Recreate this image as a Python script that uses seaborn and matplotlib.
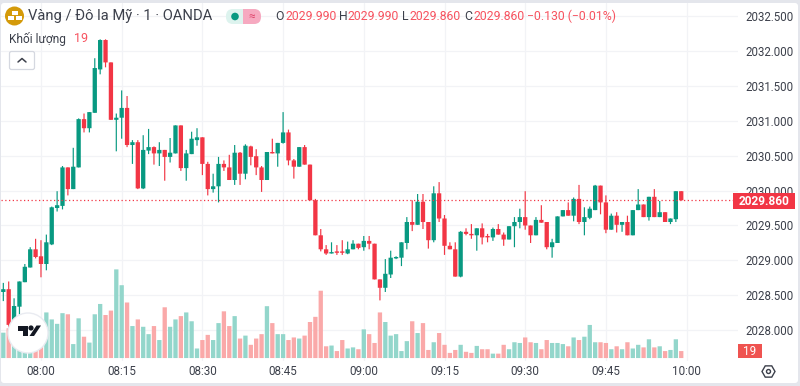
import numpy as np
import pandas as pd
import seaborn as sns
import matplotlib.pyplot as plt
from matplotlib.patches import Circle, FancyBboxPatch, Polygon, Rectangle, RegularPolygon

# Candle values, one per minute
opens = [2028.55,2028.59,2028.08,2028.34,2028.69,2028.90,2029.16,2029.06,2028.95,2029.23,
         2029.75,2029.78,2030.33,2030.02,2030.33,2031.02,2030.89,2031.11,2031.73,2032.15,
         2031.83,2031.01,2031.04,2031.18,2030.65,2030.69,2030.03,2030.57,2030.62,2030.53,
         2030.58,2030.48,2030.53,2030.93,2030.32,2030.52,2030.72,2030.76,2030.38,2030.02,
         2030.06,2030.38,2030.33,2030.15,2030.54,2030.24,2030.63,2030.49,2030.33,2030.15,
         2030.55,2030.53,2030.68,2030.83,2030.43,2030.34,2030.62,2030.37,2029.86,2029.36,
         2029.16,2029.10,2029.12,2029.12,2029.10,2029.16,2029.24,2029.19,2029.28,2029.24,
         2028.73,2028.61,2028.80,2029.03,2029.04,2029.25,2029.55,2029.51,2029.84,2029.55,
         2029.29,2029.96,2029.60,2029.21,2029.16,2028.77,2029.41,2029.38,2029.36,2029.46,
         2029.34,2029.33,2029.45,2029.37,2029.30,2029.49,2029.55,2029.62,2029.50,2029.36,
         2029.58,2029.55,2029.19,2029.25,2029.63,2029.72,2029.64,2029.88,2029.55,2029.61,
         2029.72,2030.07,2029.83,2029.44,2029.64,2029.51,2029.55,2029.36,2029.72,2029.80,
         2029.62,2029.91,2029.62,2029.69,2029.55,2029.59,2029.99]
highs = [2028.68,2028.70,2028.46,2028.70,2028.95,2029.19,2029.31,2029.29,2029.37,2029.77,
         2029.99,2030.35,2030.33,2030.61,2031.03,2031.10,2031.12,2031.89,2032.16,2032.16,
         2031.83,2031.10,2031.43,2031.35,2030.72,2030.72,2030.79,2030.88,2030.63,2030.69,
         2030.58,2030.75,2030.93,2030.93,2030.58,2030.84,2030.89,2030.76,2030.41,2030.24,
         2030.48,2030.43,2030.51,2030.65,2030.55,2030.66,2030.64,2030.59,2030.35,2030.55,
         2030.74,2030.68,2031.12,2030.87,2030.45,2030.62,2030.65,2030.37,2029.88,2029.45,
         2029.22,2029.26,2029.22,2029.29,2029.27,2029.29,2029.24,2029.35,2029.35,2029.24,
         2028.73,2029.02,2029.14,2029.06,2029.26,2029.62,2029.86,2029.95,2029.95,2029.55,
         2030.06,2030.12,2029.65,2029.26,2029.26,2029.42,2029.46,2029.52,2029.46,2029.53,
         2029.38,2029.47,2029.52,2029.40,2029.49,2029.62,2029.74,2029.99,2029.50,2029.62,
         2029.79,2029.55,2029.31,2029.63,2029.72,2029.83,2029.90,2030.08,2029.76,2029.77,
         2030.08,2030.07,2029.93,2029.67,2029.69,2029.55,2029.64,2029.72,2030.02,2029.80,
         2029.91,2030.02,2029.85,2029.69,2029.60,2029.99,2029.99]
lows = [2028.42,2028.02,2028.05,2028.23,2028.69,2028.90,2029.03,2028.76,2028.86,2029.22,
        2029.70,2029.73,2029.93,2030.02,2030.33,2030.83,2030.83,2031.11,2031.66,2031.76,
        2031.01,2030.56,2030.74,2030.62,2030.38,2030.02,2030.02,2030.52,2030.37,2030.35,
        2030.14,2030.40,2030.53,2030.28,2030.14,2030.52,2030.64,2030.22,2029.93,2029.97,
        2029.83,2030.28,2030.15,2030.08,2030.08,2030.16,2030.36,2030.22,2029.98,2030.15,
        2030.53,2030.34,2030.67,2030.36,2030.17,2030.34,2030.37,2029.86,2029.36,2029.13,
        2029.08,2029.10,2029.08,2029.08,2029.09,2029.16,2029.16,2029.14,2029.16,2028.73,
        2028.43,2028.55,2028.75,2029.02,2028.92,2029.16,2029.42,2029.51,2029.45,2029.17,
        2029.26,2029.55,2029.08,2029.16,2028.77,2028.76,2029.36,2029.31,2029.14,2029.23,
        2029.26,2029.28,2029.37,2029.21,2029.30,2029.19,2029.46,2029.44,2029.25,2029.36,
        2029.54,2029.16,2029.04,2029.25,2029.63,2029.64,2029.56,2029.52,2029.36,2029.59,
        2029.72,2029.66,2029.39,2029.44,2029.40,2029.41,2029.36,2029.36,2029.72,2029.62,
        2029.57,2029.62,2029.62,2029.55,2029.52,2029.55,2029.86]
closes = [2028.59,2028.08,2028.35,2028.70,2028.91,2029.16,2029.05,2028.95,2029.26,2029.76,
          2029.79,2030.33,2030.02,2030.34,2031.02,2030.89,2031.12,2031.75,2032.15,2031.83,
          2031.01,2031.04,2031.18,2030.65,2030.69,2030.03,2030.58,2030.62,2030.53,2030.58,
          2030.48,2030.54,2030.93,2030.32,2030.53,2030.74,2030.76,2030.38,2030.02,2030.06,
          2030.38,2030.33,2030.15,2030.54,2030.24,2030.64,2030.48,2030.33,2030.15,2030.55,
          2030.53,2030.68,2030.83,2030.43,2030.34,2030.62,2030.37,2029.86,2029.36,2029.16,
          2029.10,2029.12,2029.11,2029.11,2029.16,2029.24,2029.18,2029.28,2029.24,2028.73,
          2028.61,2028.81,2029.04,2029.04,2029.26,2029.55,2029.51,2029.84,2029.55,2029.29,
          2029.96,2029.60,2029.21,2029.16,2028.77,2029.41,2029.38,2029.36,2029.46,2029.33,
          2029.33,2029.45,2029.37,2029.30,2029.49,2029.55,2029.62,2029.50,2029.36,2029.58,
          2029.54,2029.19,2029.26,2029.63,2029.72,2029.64,2029.88,2029.55,2029.62,2029.74,
          2030.07,2029.83,2029.44,2029.64,2029.51,2029.55,2029.36,2029.72,2029.80,2029.62,
          2029.91,2029.62,2029.69,2029.55,2029.60,2029.99,2029.86]
volumes = [69,81,49,26,26,38,71,98,124,105,93,122,119,38,108,58,42,119,147,117,
           129,241,198,151,87,105,85,65,87,49,138,85,105,114,124,100,26,49,63,49,
           95,127,87,114,53,61,36,53,65,141,95,65,65,49,56,53,61,98,112,183,
           32,34,19,49,26,29,24,78,65,41,124,98,61,65,19,46,100,68,95,22,
           43,68,36,14,22,36,17,14,33,24,24,12,12,36,24,43,41,56,43,41,
           24,49,41,41,38,32,56,49,58,90,43,43,41,24,32,24,43,26,36,29,
           51,29,32,19,22,51,19]

# Minutes counted from 08:00, so the ticks fall on the quarter hours
minutes = list(range(-7, 120))
time_ticks = [0, 15, 30, 45, 60, 75, 90, 105, 120]
time_labels = ['08:00', '08:15', '08:30', '08:45', '09:00', '09:15', '09:30', '09:45', '10:00']
price_ticks = [2028.0, 2028.5, 2029.0, 2029.5, 2030.0, 2030.5, 2031.0, 2031.5, 2032.0, 2032.5]
last_price = 2029.86
last_volume = 19

df = pd.DataFrame({'minute': minutes, 'open': opens, 'high': highs, 'low': lows,
                   'close': closes, 'volume': volumes})
df['up'] = df['close'] >= df['open']

GREEN = '#089981'
RED = '#F23645'
RED_TEXT = '#F7525F'
VOL_GREEN = '#93D6CB'
VOL_RED = '#FAA9A9'
GRID = '#F2F3F6'
TEXT = '#3C404B'

sns.set_theme(style='white')
plt.rcParams['font.family'] = ['Roboto', 'DejaVu Sans']

fig = plt.figure(figsize=(8, 3.86), dpi=100, facecolor='#E4E6EC')

# White card behind the chart, in pixels from the top left
back = fig.add_axes([0, 0, 1, 1], facecolor='none', zorder=-1)
back.set_xlim(0, 800)
back.set_ylim(386, 0)
back.axis('off')
back.add_patch(FancyBboxPatch((1, 3), 797, 380, boxstyle='round,pad=0,rounding_size=3', fc='white', ec='none'))

rect = [1 / 800, 1 - 361 / 386, 737 / 800, 358 / 386]
ax = fig.add_axes(rect, facecolor='none', zorder=1)
ax_vol = fig.add_axes(rect, facecolor='none', sharex=ax, zorder=2)
ax_candle = fig.add_axes(rect, facecolor='none', sharex=ax, sharey=ax, zorder=3)

# Volume bars along the bottom
sns.barplot(data=df, x='minute', y='volume', hue='up', palette={True: VOL_GREEN, False: VOL_RED},
            native_scale=True, dodge=False, width=0.8, saturation=1, linewidth=0, legend=False, ax=ax_vol)
for bar in ax_vol.patches:
    bar.set_snap(False)
ax_vol.set_ylim(-8, 965)
ax_vol.axis('off')

# Candles
colors = df['up'].map({True: GREEN, False: RED})
wicks = ax_candle.vlines(df['minute'], df['low'], df['high'], colors=colors, linewidth=0.85)
wicks.set_snap(False)
body_low = df[['open', 'close']].min(axis=1)
body_size = (df['close'] - df['open']).abs().clip(lower=0.02)
bodies = ax_candle.bar(df['minute'], body_size, bottom=body_low, width=0.8, color=colors, linewidth=0)
for body in bodies:
    body.set_snap(False)
ax_candle.axhline(last_price, color=RED, linewidth=0.9, linestyle=(0, (1, 2)))
ax_candle.axis('off')

ax.set_xlim(-7.43, 129.55)
ax.set_ylim(2027.564, 2032.679)
ax.yaxis.tick_right()
ax.set_xticks(time_ticks)
ax.set_xticklabels(time_labels)
ax.set_yticks(price_ticks)
ax.set_yticklabels(['%.3f' % p for p in price_ticks])
ax.tick_params(axis='x', length=0, pad=3, labelsize=8.4, labelcolor=TEXT)
ax.tick_params(axis='y', length=0, pad=5.5, labelsize=8.3, labelcolor=TEXT)
ax.grid(True, color=GRID, linewidth=0.9)
sns.despine(ax=ax, left=True, bottom=True, top=True, right=True)

# Everything drawn over the chart, in pixels from the top left
over = fig.add_axes([0, 0, 1, 1], facecolor='none', zorder=5)
over.set_xlim(0, 800)
over.set_ylim(386, 0)
over.axis('off')

# Price and volume labels on the right
over.add_patch(Rectangle((733, 193), 62, 16, fc=RED, ec='none'))
over.text(764, 201.5, '%.3f' % last_price, color='white', fontsize=8.6, fontweight='bold', ha='center', va='center')
over.add_patch(Rectangle((738, 344), 24, 14, fc='#EF5350', ec='none'))
over.text(750, 351.5, str(last_volume), color='white', fontsize=8.4, ha='center', va='center')

# Title row
over.add_patch(Circle((14.5, 16), 9.5, fc='#D49A0A', ec='none'))
over.add_patch(Rectangle((11.5, 11), 6, 3.5, fc='white', ec='none'))
over.add_patch(Rectangle((7.5, 16), 6, 3.5, fc='white', ec='none'))
over.add_patch(Rectangle((15.5, 16), 6, 3.5, fc='white', ec='none'))
over.add_patch(FancyBboxPatch((226, 9), 34, 15, boxstyle='round,pad=0,rounding_size=7', fc='#DDF3EE', ec='none'))
over.add_patch(FancyBboxPatch((243, 9), 18, 15, boxstyle='round,pad=0,rounding_size=7', fc='#F6A9C0', ec='none'))
over.add_patch(Rectangle((243, 9), 8, 15, fc='#F6A9C0', ec='none'))
over.add_patch(Circle((235, 16.5), 3.8, fc=GREEN, ec='none'))
over.text(252, 16.5, '≈', color='#E0486E', fontsize=8.5, ha='center', va='center')

over.text(28.5, 16, 'Vàng / Đô la Mỹ · 1 · OANDA', color=TEXT, fontsize=10.6, va='center')
for x, s, c in [(275, 'O', TEXT), (285, '2029.990', RED_TEXT), (339, 'H', TEXT), (348, '2029.990', RED_TEXT),
                (402, 'L', TEXT), (410, '2029.860', RED_TEXT), (464, 'C', TEXT), (473, '2029.860', RED_TEXT),
                (527, '−0.130 (−0.01%)', RED_TEXT)]:
    over.text(x, 16.5, s, color=c, fontsize=8.8, va='center')

over.text(9, 38.5, 'Khối lượng', color=TEXT, fontsize=8.6, va='center')
over.text(74, 38.5, str(last_volume), color=RED_TEXT, fontsize=9, va='center')

# Collapse button
over.add_patch(FancyBboxPatch((9.5, 51.5), 25, 18, boxstyle='round,pad=0,rounding_size=2', fc='white',
                              ec='#D5D8E0', linewidth=0.9))
over.plot([18, 22, 26], [62, 58.5, 62], color=TEXT, linewidth=1.1)

# TradingView badge
over.add_patch(Circle((28, 333), 20, fc='white', ec='#E9EBF1', linewidth=1))
over.add_patch(Rectangle((17.5, 325.5), 10, 5, fc='#131722', ec='none'))
over.add_patch(Rectangle((22.5, 325.5), 5, 10.5, fc='#131722', ec='none'))
over.add_patch(Circle((31, 328), 2.6, fc='#131722', ec='none'))
over.add_patch(Polygon([(36.5, 325.5), (41, 325.5), (34, 336), (29.5, 336)], fc='#131722', ec='none'))

# Settings icon under the price scale
over.add_patch(RegularPolygon((768.5, 371.5), 6, radius=6.5, orientation=np.pi / 2, fc='white', ec=TEXT, linewidth=1))
over.add_patch(Circle((768.5, 371.5), 2, fc='white', ec=TEXT, linewidth=1))

fig.savefig('out.png', dpi=100, facecolor=fig.get_facecolor())
